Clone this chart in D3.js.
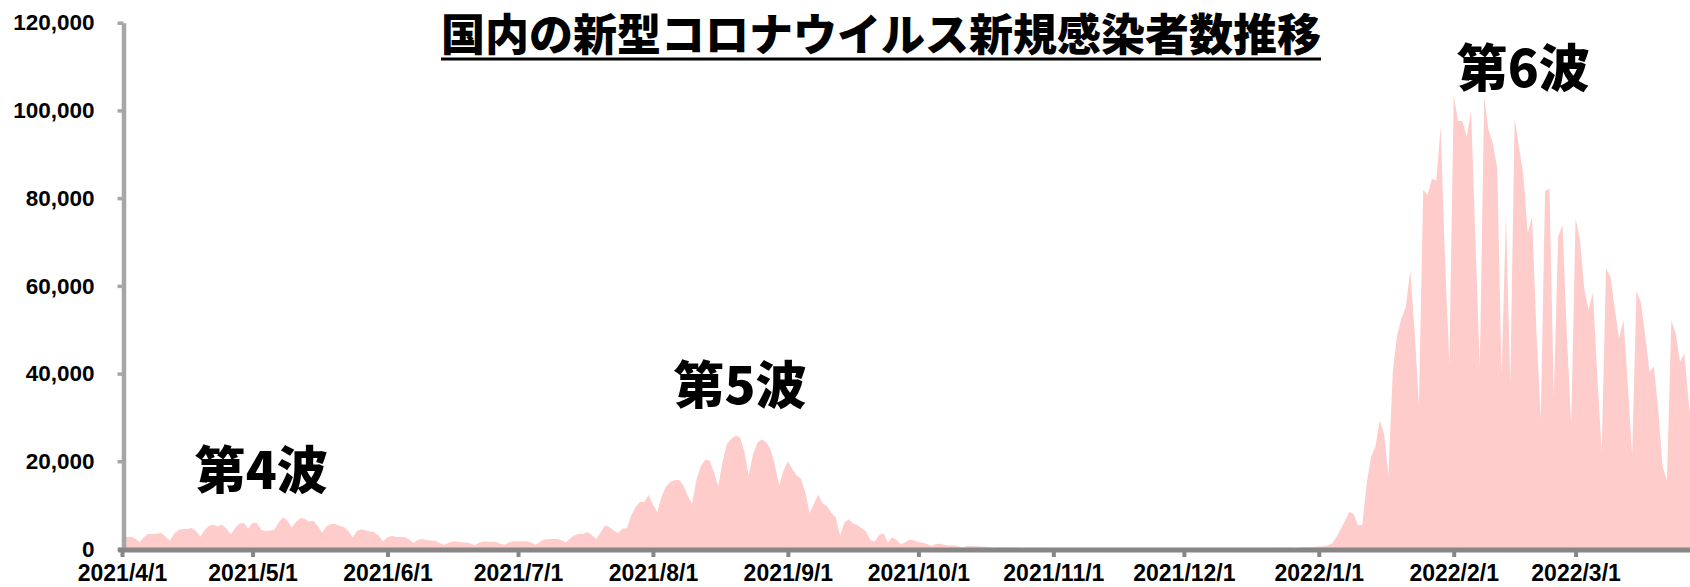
<!DOCTYPE html>
<html>
<head>
<meta charset="utf-8">
<title>国内の新型コロナウイルス新規感染者数推移</title>
<script src="https://cdn.jsdelivr.net/npm/d3@7"></script>
<style>
  body { margin: 0; background: #fff; }
  svg text { font-family: "Liberation Sans", Arial, sans-serif; font-weight: bold; fill: #000; }
  svg text.jp { font-family: "Noto Sans CJK JP", sans-serif; font-weight: 900; }
</style>
</head>
<body>
<svg id="chart" width="1690" height="587"></svg>
<script>
// daily new cases, one array per month
var startDate = "2021-04-01";
var apr2021 = [2599, 2762, 2765, 2471, 1566, 2651, 3451, 3447, 3480, 3697, 2782, 1951, 3452, 4312, 4570, 4532, 4793, 4092, 2847, 4341, 5290, 5501, 5121, 5606, 4606, 3319, 4801, 5791, 5920, 4681];
var may2021 = [5984, 5902, 4335, 4099, 4190, 4393, 6054, 7234, 6474, 4888, 6236, 7045, 6869, 6278, 6419, 5235, 3680, 5208, 5727, 5701, 5249, 5034, 4130, 2640, 4153, 4523, 4196, 3990, 3819, 2997, 1726];
var jun2021 = [2643, 3001, 2749, 2715, 2664, 2173, 1396, 2084, 2279, 2069, 1941, 1890, 1381, 935, 1434, 1694, 1703, 1549, 1509, 1309, 870, 1422, 1718, 1673, 1643, 1624, 1225, 972, 1543, 1739];
var jul2021 = [1760, 1777, 1776, 1464, 982, 1591, 2189, 2241, 2260, 2253, 1979, 1500, 2386, 3194, 3421, 3422, 3885, 3096, 2327, 3758, 5393, 5010, 4225, 3574, 4692, 4686, 7631, 9576, 10699, 10744, 12340];
var aug2021 = [10166, 8392, 12017, 14207, 15263, 15753, 15732, 14470, 12076, 10323, 15812, 18889, 20365, 20151, 17580, 14288, 19962, 23917, 25145, 25866, 25492, 22242, 16844, 21570, 24302, 24974, 24375, 22748, 19294, 14453, 17870];
var sep2021 = [20032, 18218, 16763, 16090, 12912, 8155, 10370, 12393, 10389, 9754, 8211, 7225, 3000, 6022, 6805, 5833, 5430, 4712, 3931, 2000, 1785, 3243, 3525, 1500, 2700, 2049, 1000, 1582, 2175, 1958];
var oct2021 = [1588, 1443, 1132, 617, 1139, 1189, 983, 804, 774, 618, 370, 603, 685, 625, 609, 496, 429, 232, 372, 388, 329, 340, 323, 268, 154, 298, 267, 270, 259, 273, 198];
var nov2021 = [86, 192, 166, 163, 197, 219, 162, 104, 179, 218, 214, 206, 172, 135, 76, 134, 170, 135, 174, 139, 103, 50, 77, 123, 99, 119, 133, 95, 70, 120];
var dec2021 = [127, 116, 132, 131, 108, 86, 150, 140, 160, 145, 163, 135, 95, 156, 180, 178, 163, 185, 170, 133, 200, 257, 280, 275, 324, 275, 205, 385, 402, 422, 498];
var jan2022 = [550, 550, 800, 1200, 2600, 4500, 6300, 8500, 8000, 5500, 5500, 15000, 21000, 23300, 29300, 26200, 16900, 40400, 48800, 52600, 55200, 63500, 50000, 32800, 81900, 80700, 84400, 84100, 96300, 66000, 42000];
var feb2022 = [103500, 97600, 97600, 94000, 99900, 70000, 41200, 103100, 95500, 92500, 86800, 39700, 76200, 37800, 98200, 91700, 85300, 72000, 75800, 49700, 29800, 81600, 82200, 34700, 71200, 73900, 48900, 28300];
var mar2022 = [75400, 70500, 59400, 54500, 58500, 39200, 22200, 64000, 62100, 55000, 48000, 52200, 37500, 21400, 59000, 56200, 48800, 40400, 41600, 31700, 18800, 15700, 52200, 49200, 42700, 44600, 33300, 25000];

var xTickLabels = ["2021/4/1", "2021/5/1", "2021/6/1", "2021/7/1", "2021/8/1", "2021/9/1", "2021/10/1", "2021/11/1", "2021/12/1", "2022/1/1", "2022/2/1", "2022/3/1"];
var yTicks = [0, 20000, 40000, 60000, 80000, 100000, 120000];

var titleText = "国内の新型コロナウイルス新規感染者数推移";
var waveNames = ["第4波", "第5波", "第6波"];
var waveDates = ["2021/5/3", "2021/8/21", "2022/2/17"];
var waveValues = [13700, 33000, 105300];

var parseDay = d3.utcParse("%Y/%-m/%-d");
var start = d3.utcParse("%Y-%m-%d")(startDate);

var counts = [].concat(apr2021, may2021, jun2021, jul2021, aug2021, sep2021, oct2021, nov2021, dec2021, jan2022, feb2022, mar2022);
var data = counts.map(function (v, i) {
  return { date: d3.utcDay.offset(start, i), value: v };
});

var svg = d3.select("#chart");

var x = d3.scaleUtc()
  .domain([start, data[data.length - 1].date])
  .range([122, 122 + (data.length - 1) * 4.352]);

var y = d3.scaleLinear()
  .domain([0, 120000])
  .range([549, 22.7]);

var area = d3.area()
  .x(function (d) { return x(d.date); })
  .y0(y(0))
  .y1(function (d) { return y(d.value); });

svg.append("path")
  .datum(data)
  .attr("d", area)
  .attr("fill", "#fecccb");

// y axis
var yAxis = d3.axisLeft(y)
  .tickValues(yTicks)
  .tickSize(6)
  .tickSizeOuter(0)
  .tickPadding(23)
  .tickFormat(d3.format(","));

var yG = svg.append("g")
  .attr("transform", "translate(123.5,0)")
  .call(yAxis);
yG.select(".domain").attr("stroke", "#a6a6a6").attr("stroke-width", 4.5);
yG.selectAll(".tick line").attr("stroke", "#a6a6a6").attr("stroke-width", 3.5);
yG.selectAll(".tick text").attr("font-size", 22.5).attr("fill", "#000");

// x axis
var xAxis = d3.axisBottom(x)
  .tickValues(xTickLabels.map(parseDay))
  .tickSize(7)
  .tickSizeOuter(0)
  .tickPadding(8)
  .tickFormat(d3.utcFormat("%Y/%-m/%-d"));

var xG = svg.append("g")
  .attr("transform", "translate(0,550)")
  .call(xAxis);
xG.select(".domain").attr("stroke", "#868686").attr("stroke-width", 5)
  .attr("d", "M" + 118 + ",0H1690");
xG.selectAll(".tick line").attr("stroke", "#868686").attr("stroke-width", 4);
xG.selectAll(".tick text").attr("font-size", 23).attr("fill", "#000");

// title with underline
var title = svg.append("text")
  .attr("class", "jp")
  .attr("x", 881)
  .attr("y", 51)
  .attr("text-anchor", "middle")
  .attr("font-size", 44)
  .text(titleText);
var tw = title.node().getComputedTextLength();
svg.append("line")
  .attr("x1", 881 - tw / 2).attr("x2", 881 + tw / 2)
  .attr("y1", 59).attr("y2", 59)
  .attr("stroke", "#000").attr("stroke-width", 3);

// wave labels
svg.selectAll("text.wave")
  .data(waveNames)
  .enter()
  .append("text")
  .attr("class", "jp wave")
  .attr("x", function (d, i) { return x(parseDay(waveDates[i])); })
  .attr("y", function (d, i) { return y(waveValues[i]); })
  .attr("text-anchor", "middle")
  .attr("font-size", 51)
  .text(function (d) { return d; });
</script>
</body>
</html>
